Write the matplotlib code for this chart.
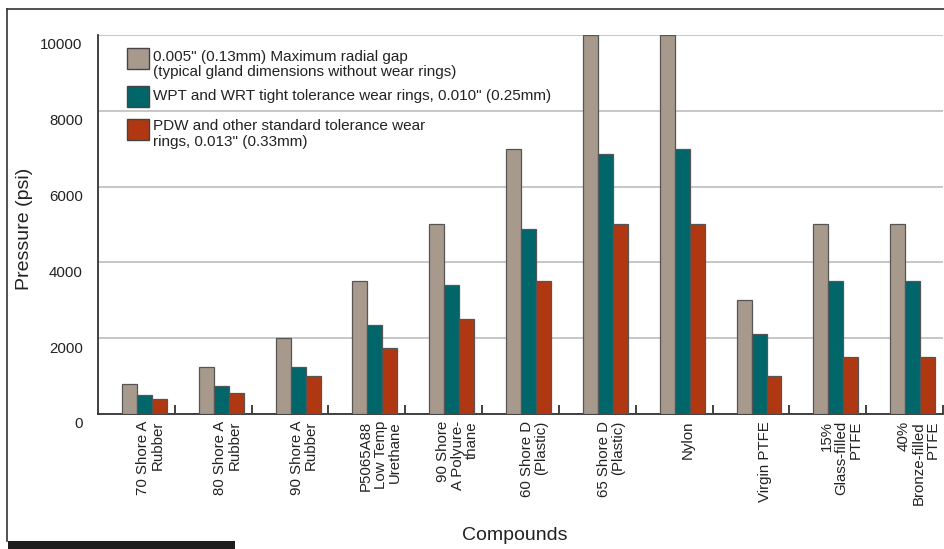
import matplotlib
matplotlib.use("Agg")
import matplotlib.pyplot as plt
import numpy as np
from matplotlib.transforms import ScaledTranslation
from matplotlib.patches import Rectangle

plt.rcParams['font.family'] = ['Liberation Sans', 'DejaVu Sans']

categories = ["70 Shore A\nRubber", "80 Shore A\nRubber", "90 Shore A\nRubber",
              "P5065A88\nLow Temp\nUrethane", "90 Shore\nA Polyure-\nthane",
              "60 Shore D\n(Plastic)", "65 Shore D\n(Plastic)", "Nylon",
              "Virgin PTFE", "15%\nGlass-filled\nPTFE", "40%\nBronze-filled\nPTFE"]
gap_0005 = [800, 1250, 2000, 3500, 5000, 7000, 10000, 10000, 3000, 5000, 5000]
wpt_wrt = [500, 750, 1250, 2350, 3400, 4870, 6850, 7000, 2100, 3500, 3500]
pdw_std = [400, 560, 1000, 1750, 2500, 3500, 5000, 5000, 1000, 1500, 1500]
series_labels = ["0.005\" (0.13mm) Maximum radial gap\n(typical gland dimensions without wear rings)",
                 "WPT and WRT tight tolerance wear rings, 0.010\" (0.25mm)",
                 "PDW and other standard tolerance wear\nrings, 0.013\" (0.33mm)"]
yticks = [0, 2000, 4000, 6000, 8000, 10000]
colors = ["#A79A8D", "#01666A", "#AF3813"]

W, H = 945, 549
fig = plt.figure(figsize=(W / 100, H / 100), dpi=100)

def fx(px):
    return px / W

def fy(py):
    return 1 - py / H

ax = fig.add_axes([fx(98), fy(414), fx(943) - fx(98), fy(35) - fy(414)])

x = np.arange(len(categories))
bw = 0.195
offsets = [-0.09, 0.105, 0.30]
for vals, off, col in zip([gap_0005, wpt_wrt, pdw_std], offsets, colors):
    ax.bar(x + off, vals, width=bw, color=col, edgecolor="#555555", linewidth=0.9, zorder=3)

ax.set_xlim(-0.5, len(categories) - 0.5)
ax.set_ylim(0, 10000)
ax.set_yticks(yticks)
ax.set_yticklabels([str(v) for v in yticks], fontsize=10.8, color="#222222")
ax.tick_params(axis='y', length=0, pad=11)
ax.yaxis.grid(True, color="#BDBDBD", linewidth=1.2, zorder=0)
ax.set_axisbelow(True)

ax.set_xticks(x + 0.18)
ax.set_xticklabels(categories, rotation=90, ha='center', va='top', fontsize=10.8,
                   color="#222222", multialignment='right', linespacing=1.05)
ax.tick_params(axis='x', which='major', length=0, pad=5)
ax.set_xticks(x + 0.5, minor=True)
ax.tick_params(axis='x', which='minor', direction='in', length=6.5, width=1.3, color="#333333")

for s in ['top', 'right']:
    ax.spines[s].set_visible(False)
for s in ['left', 'bottom']:
    ax.spines[s].set_color("#333333")
    ax.spines[s].set_linewidth(1.3)

off = ScaledTranslation(0, -9 / 100, fig.dpi_scale_trans)
for lab in ax.get_yticklabels():
    lab.set_transform(lab.get_transform() + off)

# legend (manual)
patch_centers = [58, 96, 129]
text_centers = [64.5, 96.5, 134]
for yc, tc, col, lab in zip(patch_centers, text_centers, colors, series_labels):
    fig.patches.append(Rectangle((fx(127), fy(yc + 10.5)), fx(22), fy(yc - 10.5) - fy(yc + 10.5),
                                 transform=fig.transFigure, facecolor=col,
                                 edgecolor="#444444", linewidth=1.0))
    fig.text(fx(153), fy(tc), lab, ha='left', va='center', fontsize=11,
             color="#222222", linespacing=1.15)

fig.text(fx(24.5), fy(229), "Pressure (psi)", rotation=90, ha='center', va='center',
         fontsize=14, color="#222222")
fig.text(fx(515), fy(536), "Compounds", ha='center', va='center', fontsize=14, color="#222222")

# outer frame and bottom bar
fig.add_artist(plt.Line2D([fx(7.5), fx(7.5)], [fy(541), fy(9)], transform=fig.transFigure,
                          color="#333333", linewidth=1.2))
fig.add_artist(plt.Line2D([fx(7.5), fx(945)], [fy(9), fy(9)], transform=fig.transFigure,
                          color="#333333", linewidth=1.2))
fig.patches.append(Rectangle((fx(8), 0), fx(235) - fx(8), fy(541), transform=fig.transFigure,
                             facecolor="#1E1E1E", edgecolor='none'))

fig.savefig("out.png", dpi=100)
